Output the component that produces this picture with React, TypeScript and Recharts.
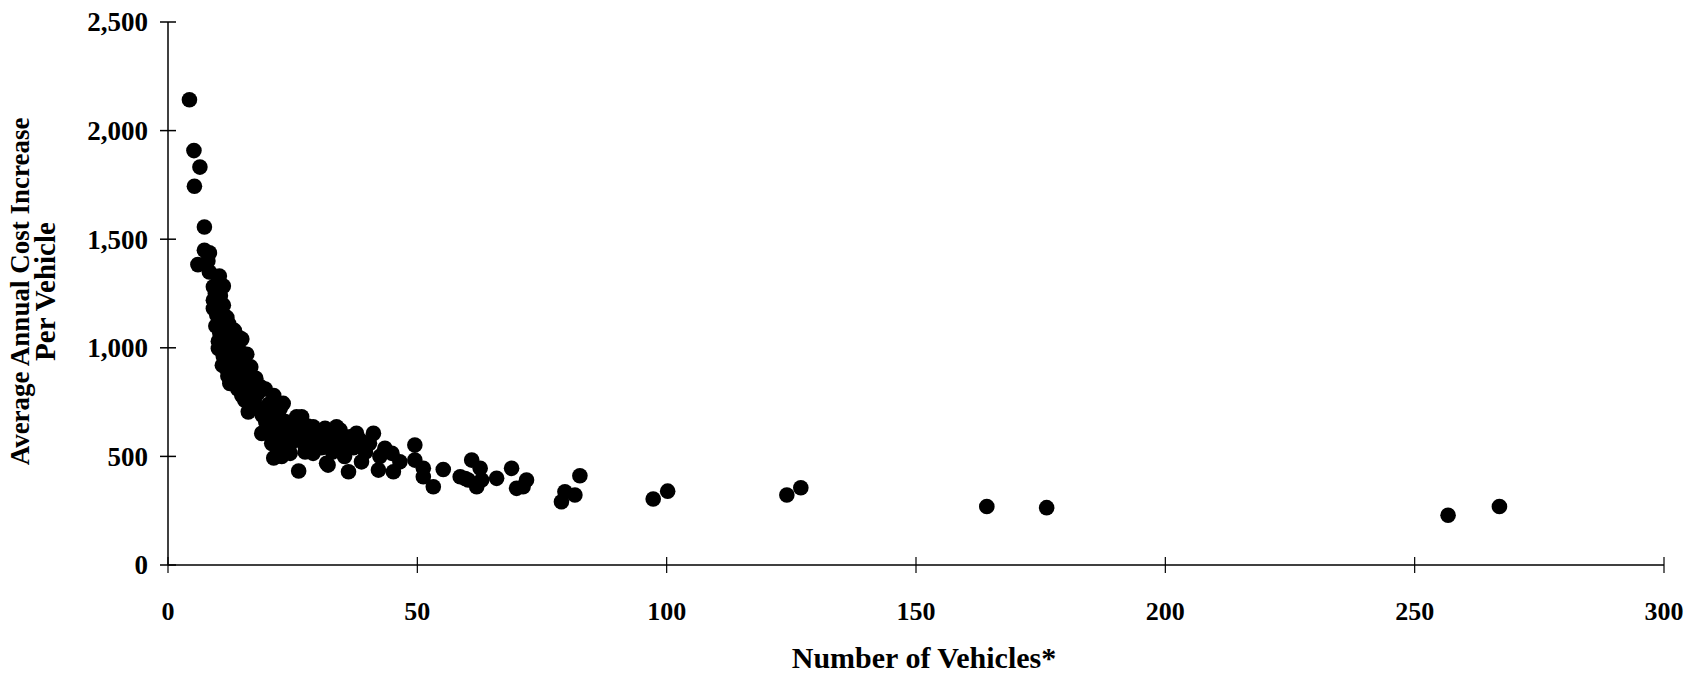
import React from 'react';
import { ScatterChart, Scatter, XAxis, YAxis, Label } from 'recharts';

const xTicks = [0, 50, 100, 150, 200, 250, 300];
const yTicks = [0, 500, 1000, 1500, 2000, 2500];

const vehicles = [
  4.3, 5.2, 6.4, 5.3, 7.3, 7.3, 8.3, 6.0, 8.3, 8.0, 10.3, 11.1, 9.1, 9.1, 11.1, 10.0, 9.5, 10.5,
  9.1, 9.8, 10.6, 11.8, 9.6, 10.4, 11.3, 12.2, 10.1, 10.8, 10.1, 11.6, 12.6, 13.3, 11.1, 11.9,
  10.9, 11.7, 12.4, 13.0, 13.6, 14.1, 12.0, 12.4, 13.2, 13.8, 14.6, 14.8, 13.5, 14.3, 15.1, 15.8,
  14.0, 14.8, 15.4, 15.2, 16.0, 16.6, 16.1, 16.3, 17.0, 17.6, 17.3, 18.0, 18.6, 19.5, 18.2, 18.9,
  18.8, 19.6, 20.2, 20.5, 21.2, 19.8, 20.9, 21.5, 22.5, 21.2, 20.8, 21.8, 22.4, 22.3, 23.1, 23.5,
  24.0, 22.8, 24.5, 24.6, 25.2, 25.8, 26.2, 26.5, 26.8, 27.2, 27.5, 28.0, 28.6, 29.1, 29.1, 29.8,
  30.2, 30.8, 31.5, 31.8, 32.1, 32.4, 33.0, 33.8, 34.5, 34.8, 35.4, 36.2, 36.5, 37.2, 37.8, 38.5,
  38.8, 39.6, 40.4, 41.2, 42.2, 42.5, 43.5, 44.9, 45.2, 46.5, 49.5, 49.5, 51.2, 51.2, 53.2, 55.2,
  58.6, 59.6, 60.9, 62.6, 60.2, 61.9, 62.9, 65.9, 68.9, 69.9, 71.9, 71.2, 78.9, 79.6, 81.6, 82.6,
  97.3, 100.2, 124.1, 126.9, 164.2, 176.2, 256.7, 267.0,
];

const costPerVehicle = [
  2142, 1908, 1832, 1744, 1556, 1449, 1437, 1383, 1349, 1400, 1330, 1284, 1281, 1219, 1196, 1300, 1250, 1240,
  1181, 1150, 1170, 1140, 1100, 1067, 1090, 1110, 1030, 1010, 997, 1040, 1060, 1080, 960, 980,
  920, 905, 940, 1000, 1020, 1050, 870, 836, 880, 950, 980, 1040, 860, 900, 930, 970,
  810, 780, 759, 840, 880, 912, 705, 800, 840, 860, 760, 790, 820, 810, 720, 690,
  606, 660, 740, 700, 780, 620, 640, 680, 720, 493, 560, 580, 540, 620, 744, 660,
  600, 500, 514, 560, 640, 682, 433, 600, 682, 560, 520, 640, 590, 514, 636, 560,
  600, 540, 629, 468, 460, 580, 520, 636, 621, 560, 500, 429, 590, 540, 606, 575,
  475, 520, 560, 606, 437, 500, 537, 514, 429, 475, 552, 483, 445, 406, 360, 440,
  406, 398, 483, 445, 391, 360, 391, 399, 445, 353, 391, 360, 291, 337, 322, 411,
  304, 340, 322, 356, 269, 264, 229, 269,
];

const points = vehicles.map((v, i) => ({ x: v, y: costPerVehicle[i] }));

const FONT = "'Liberation Serif', 'Times New Roman', serif";

const fmt = (v: number) => v.toLocaleString('en-US');

const XTick = (props: any) => {
  const { x, y, payload } = props;
  return (
    <g>
      <line x1={x} x2={x} y1={y - 8} y2={y + 8} stroke="#000" strokeWidth={1.2} />
      <text x={x} y={y + 55} textAnchor="middle" fontFamily={FONT} fontWeight="bold" fontSize={26} fill="#000">
        {fmt(payload.value)}
      </text>
    </g>
  );
};

const YTick = (props: any) => {
  const { x, y, payload } = props;
  return (
    <g>
      <line x1={x - 8} x2={x + 8} y1={y} y2={y} stroke="#000" strokeWidth={1.5} />
      <text x={x - 20} y={y} dy="0.35em" textAnchor="end" fontFamily={FONT} fontWeight="bold" fontSize={27} fill="#000">
        {fmt(payload.value)}
      </text>
    </g>
  );
};

const YLabel = (props: any) => {
  const vb = props.viewBox || { x: 0, y: 14, width: 168, height: 543 };
  const cy = vb.y + vb.height / 2 - 2;
  const x1 = vb.x + 29;
  const x2 = vb.x + 55;
  return (
    <g fontFamily={FONT} fontWeight="bold" fill="#000">
      <text x={x1} y={cy} fontSize={27} textAnchor="middle" transform={`rotate(-90 ${x1} ${cy})`}>
        Average Annual Cost Increase
      </text>
      <text x={x2} y={cy} fontSize={29} textAnchor="middle" transform={`rotate(-90 ${x2} ${cy})`}>
        Per Vehicle
      </text>
    </g>
  );
};

const XLabel = (props: any) => {
  const vb = props.viewBox || { x: 168, y: 557, width: 1496, height: 115 };
  const cx = vb.x + vb.width / 2 + 8;
  return (
    <text x={cx} y={vb.y + 103} textAnchor="middle" fontFamily={FONT} fontWeight="bold" fontSize={30} fill="#000">
      Number of Vehicles*
    </text>
  );
};

const Dot = (props: any) => <circle cx={props.cx} cy={props.cy} r={7.8} fill="#000" />;

export default function App() {
  return (
    <div style={{ width: 1689, height: 672, marginLeft: -8, background: '#fff' }}>
      <ScatterChart width={1689} height={672} margin={{ top: 14, right: 25, bottom: 0, left: 0 }}>
        <XAxis
          type="number"
          dataKey="x"
          domain={[0, 300]}
          ticks={xTicks}
          interval={0}
          height={115}
          tickSize={0}
          tickMargin={0}
          tickLine={false}
          axisLine={{ stroke: '#000', strokeWidth: 1.5 }}
          tick={<XTick />}
        >
          <Label content={<XLabel />} />
        </XAxis>
        <YAxis
          type="number"
          dataKey="y"
          domain={[0, 2500]}
          ticks={yTicks}
          interval={0}
          width={168}
          tickSize={0}
          tickMargin={0}
          tickLine={false}
          axisLine={{ stroke: '#000', strokeWidth: 1.5 }}
          tick={<YTick />}
        >
          <Label content={<YLabel />} />
        </YAxis>
        <Scatter data={points} shape={<Dot />} isAnimationActive={false} />
      </ScatterChart>
    </div>
  );
}
